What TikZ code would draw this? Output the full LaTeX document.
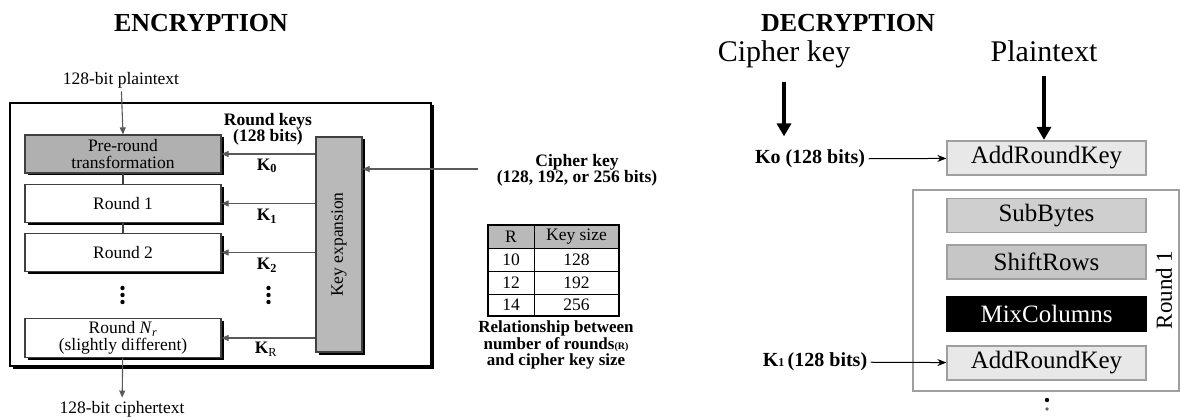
\documentclass[tikz,border=0pt]{standalone}
\usepackage{fontspec}
\setmainfont{Liberation Serif}
\usetikzlibrary{arrows.meta,shadows}

\tikzset{
  enc/.style={font=\fontsize{17.5}{17}\selectfont},
  encbold/.style={font=\bfseries\fontsize{17.5}{16}\selectfont},
  boxshadow/.style={drop shadow={shadow xshift=2.5pt,shadow yshift=-2.5pt,fill=black,opacity=1}},
  encbox/.style={draw=black!75,line width=1.2pt,fill=white,minimum width=196pt,minimum height=38pt,align=center,boxshadow,enc},
  encarrow/.style={draw=black!65,line width=1.1pt,-{Triangle[length=7pt,width=6pt]}},
  decbox/.style={draw=gray!75,line width=1.3pt,minimum width=199pt,minimum height=34pt,font=\fontsize{25}{26}\selectfont},
  bigarrow/.style={line width=4pt,-{Triangle[length=13pt,width=14pt]}},
  keyarrow/.style={line width=1pt,-{Stealth[length=9pt,width=7pt]}},
  vdot/.style={fill=black}
}

\begin{document}
\begin{tikzpicture}[x=1pt,y=-1pt]
\useasboundingbox (0,0) rectangle (1181,417);

% encryption side
\node[font=\bfseries\fontsize{26}{28}\selectfont] (enctitle) at (201,23) {ENCRYPTION};
\draw[line width=1.2pt,fill=white,boxshadow] (10,103) rectangle (431,366);

\node[encbox,fill=gray!62] (pre) at (123,154) {Pre-round\\transformation};
\node[encbox] (r1) at (123,203.5) {Round 1};
\node[encbox] (r2) at (123,252.5) {Round 2};
\node[encbox] (rn) at (123,338) {Round \textit{N}\textsubscript{\textit{r}}\\(slightly different)};
\node[draw=black!75,line width=1.2pt,fill=gray!55,minimum width=46pt,minimum height=215pt,boxshadow,enc] (kexp) at (339,244.5) {\rotatebox{90}{Key expansion}};

\node[enc] (plain) at (121,80) {128-bit plaintext};
\node[enc] (ciph) at (122,409) {128-bit ciphertext};
\draw[encarrow] (plain) -- (pre.north);
\draw[black!75,line width=1.1pt] (pre) -- (r1);
\draw[black!75,line width=1.1pt] (r1) -- (r2);
\draw[encarrow] (rn) -- (ciph);

\node[encbold,align=center] (rkeys) at (268,129) {Round keys\\(128 bits)};
\node[encbold] (k0) at (267,166) {K\textsubscript{0}};
\node[encbold] (k1) at (267,216) {K\textsubscript{1}};
\node[encbold] (k2) at (267,265) {K\textsubscript{2}};
\node[encbold] (kr) at (266,349) {K\textsubscript{\mdseries R}};
\foreach \b in {pre,r1,r2,rn}
  \draw[encarrow] (kexp.west |- \b.east) -- (\b.east);
\foreach \x in {122.5,268.5}
  \foreach \y in {288,295,302}
    \fill[vdot] (\x,\y) circle (2.2);

\node[encbold,align=center] (ckey) at (577,170) {Cipher key\\(128, 192, or 256 bits)};
\coordinate (ckin) at (478,169);
\draw[encarrow] (ckin) -- (kexp.east |- ckin);

% table of rounds
\fill[gray!55] (488,225) rectangle (619,248);
\draw[line width=1.2pt] (488,225) rectangle (619,316);
\foreach \y in {248,271,294} \draw[line width=1pt] (488,\y) -- (619,\y);
\draw[line width=1pt] (534,225) -- (534,316);
\node[enc] (thr) at (511,236.5) {R};
\node[enc] (thk) at (576.5,236.5) {Key size};
\foreach \r/\k/\y in {10/128/259.5,12/192/282.5,14/256/305} {
  \node[enc] (tr\r) at (511,\y) {\r};
  \node[enc] (tk\r) at (576.5,\y) {\k};
}
\node[encbold,font=\bfseries\fontsize{17}{16.5}\selectfont,align=center] (rel) at (556,345) {Relationship between\\number of rounds{\fontsize{10}{11}\selectfont(R)}\\and cipher key size};

% decryption side
\node[font=\bfseries\fontsize{26}{28}\selectfont] (dectitle) at (848,23) {DECRYPTION};
\node[font=\fontsize{30}{32}\selectfont,anchor=base] (ckeyd) at (784,62) {Cipher key};
\node[font=\fontsize{30}{32}\selectfont,anchor=base] (ptd) at (1044,62) {Plaintext};

\draw[draw=gray!75,line width=1.3pt] (913,190) rectangle (1179,391);
\node[decbox,fill=gray!18] (ark0) at (1046.5,158) {AddRoundKey};
\node[decbox,fill=gray!38] (sub) at (1046.5,215.5) {SubBytes};
\node[decbox,fill=gray!45] (shift) at (1046.5,262) {ShiftRows};
\node[decbox,draw=black,fill=black,text=white] (mix) at (1046.5,314) {MixColumns};
\node[decbox,fill=gray!18] (ark1) at (1046.5,363) {AddRoundKey};
\node[font=\fontsize{23}{24}\selectfont,rotate=90] (rnd1) at (1164,290) {Round 1};

\node[font=\bfseries\fontsize{20}{22}\selectfont] (kd0) at (810,159) {Ko (128 bits)};
\node[font=\bfseries\fontsize{20}{22}\selectfont] (kd1) at (815,362) {K{\fontsize{12}{12}\selectfont 1}\,(128 bits)};
\draw[bigarrow,shorten <=10pt,shorten >=10pt] (ckeyd.south) -- (ckeyd.south |- kd0.north);
\draw[bigarrow,shorten <=10pt,shorten >=0.5pt] (ptd.south) -- (ptd.south |- ark0.north);
\draw[keyarrow] (kd0) -- (ark0);
\draw[keyarrow] (kd1) -- (ark1);
\fill[vdot] (1047,400) circle (2.2);
\fill[vdot,black!60] (1047,409) circle (1.8);
\end{tikzpicture}
\end{document}
